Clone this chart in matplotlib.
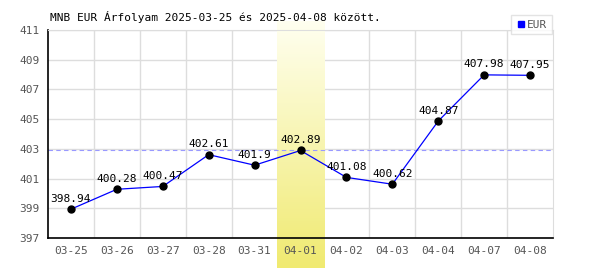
import numpy as np
import matplotlib.pyplot as plt
from matplotlib.lines import Line2D
from matplotlib.colors import LinearSegmentedColormap

dates = ['03-25', '03-26', '03-27', '03-28', '03-31', '04-01',
         '04-02', '04-03', '04-04', '04-07', '04-08']
rates = [398.94, 400.28, 400.47, 402.61, 401.9, 402.89,
         401.08, 400.62, 404.87, 407.98, 407.95]
y_ticks = [397, 399, 401, 403, 405, 407, 409, 411]
highlight = '04-01'
title = 'MNB EUR Árfolyam 2025-03-25 és 2025-04-08 között.'

plt.rcParams['font.family'] = ['DejaVu Sans Mono']

fig = plt.figure(figsize=(6, 2.7), dpi=100)
ax = fig.add_axes([0.08, 0.1185, 0.8417, 0.7704])

x = np.arange(len(dates))
hi = dates.index(highlight)

ax.set_xlim(-0.5, len(dates) - 0.5)
ax.set_ylim(397, 411)

for xv in np.arange(0.5, len(dates) - 0.5, 1):
    ax.axvline(xv, color='#dddddd', lw=1, zorder=1)
for yv in y_ticks:
    ax.axhline(yv, color='#dddddd', lw=1, zorder=1)

# yellow gradient band over the highlighted day (runs past the axes)
grad = np.linspace(0, 1, 256).reshape(-1, 1)
cmap = LinearSegmentedColormap.from_list('band', ['#fffff0', '#f0ea70'])
ax.imshow(grad, cmap=cmap, aspect='auto', origin='upper',
          extent=(hi - 0.52, hi + 0.52, 394.98, 411.55),
          clip_on=False, zorder=1.5)
ax.set_xlim(-0.5, len(dates) - 0.5)
ax.set_ylim(397, 411)

ax.axhline(rates[hi], color='#9999ff', lw=0.8, ls=(0, (4, 3)), zorder=2)

ax.plot(x, rates, color='#0000ff', lw=0.9, zorder=3)
ax.plot(x, rates, 'o', color='black', ms=5, zorder=4)

for xi, v in zip(x, rates):
    ax.annotate(f'{v:g}', (xi, v), xytext=(0, 4), textcoords='offset points',
                ha='center', va='bottom', fontsize=8, color='black', zorder=5)

ax.set_xticks(x)
ax.set_xticklabels(dates)
ax.set_yticks(y_ticks)
ax.tick_params(length=0, labelsize=8, labelcolor='#555555', pad=6)

for s in ['top', 'right']:
    ax.spines[s].set_color('#dddddd')
ax.spines['left'].set_color('black')
ax.spines['bottom'].set_color('black')
ax.spines['left'].set_linewidth(1.2)
ax.spines['bottom'].set_linewidth(1.2)

fig.text(50 / 600, 1 - 17 / 270, title, fontsize=8, color='black',
         ha='left', va='center')

handle = Line2D([], [], marker='s', color='#0000ff', ls='none', ms=5)
leg = ax.legend([handle], ['EUR'], loc='lower right',
                bbox_to_anchor=(552 / 600, 1 - 34 / 270),
                bbox_transform=fig.transFigure, fontsize=8,
                frameon=True, fancybox=False, borderpad=0.4,
                handletextpad=0.1, handlelength=1.0, borderaxespad=0)
leg.get_frame().set_edgecolor('#dddddd')
leg.get_frame().set_linewidth(1)
for t in leg.get_texts():
    t.set_color('#555555')

fig.savefig('out.png', dpi=100)
